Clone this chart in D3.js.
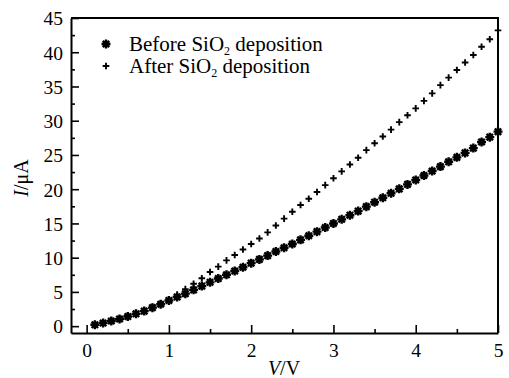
<!DOCTYPE html>
<html lang="en">
<head>
<meta charset="UTF-8">
<title>I-V curve</title>
<script src="https://cdn.jsdelivr.net/npm/d3@7.9.0/dist/d3.min.js"></script>
<style>
    body { margin: 0; background: #fff; }
    svg { display: block; font-family: "Liberation Serif", "Times New Roman", serif; }
    .axis path, .axis line { stroke: #000; }
    .axis path { stroke-width: 2; }
    .axis line { stroke-width: 1.6; }
    .axis text { font-family: "Liberation Serif", "Times New Roman", serif; font-size: 19.5px; fill: #000; }
</style>
</head>
<body>
<svg id="chart" width="509" height="378"></svg>
<script>
// voltage steps (V)
const voltage = [0.1, 0.2, 0.3, 0.4, 0.5, 0.6, 0.7, 0.8, 0.9, 1.0,
    1.1, 1.2, 1.3, 1.4, 1.5, 1.6, 1.7, 1.8, 1.9, 2.0,
    2.1, 2.2, 2.3, 2.4, 2.5, 2.6, 2.7, 2.8, 2.9, 3.0,
    3.1, 3.2, 3.3, 3.4, 3.5, 3.6, 3.7, 3.8, 3.9, 4.0,
    4.1, 4.2, 4.3, 4.4, 4.5, 4.6, 4.7, 4.8, 4.9, 5.0];

// current before SiO2 deposition (uA)
const currentBefore = [0.2, 0.45, 0.75, 1.05, 1.4, 1.8, 2.2, 2.7, 3.2, 3.75,
    4.25, 4.75, 5.3, 5.85, 6.4, 6.95, 7.5, 8.05, 8.6, 9.2,
    9.75, 10.3, 10.9, 11.45, 12.0, 12.6, 13.2, 13.8, 14.4, 15.0,
    15.6, 16.2, 16.8, 17.45, 18.1, 18.75, 19.4, 20.05, 20.7, 21.35,
    22.0, 22.65, 23.3, 24.0, 24.65, 25.3, 26.0, 26.9, 27.6, 28.4];

// current after SiO2 deposition (uA)
const currentAfter = [0.2, 0.5, 0.8, 1.1, 1.5, 1.9, 2.3, 2.8, 3.3, 3.9,
    4.6, 5.4, 6.2, 7.0, 7.9, 8.7, 9.6, 10.4, 11.2, 12.0,
    12.8, 13.7, 14.7, 15.7, 16.7, 17.7, 18.6, 19.6, 20.6, 21.6,
    22.6, 23.6, 24.6, 25.7, 26.7, 27.7, 28.7, 29.8, 30.8, 31.8,
    32.9, 34.0, 35.2, 36.3, 37.4, 38.5, 39.6, 40.8, 41.9, 43.2];

const xTicks = [0, 1, 2, 3, 4, 5];
const yTicks = [0, 5, 10, 15, 20, 25, 30, 35, 40, 45];
const xMinor = [0.5, 1.5, 2.5, 3.5, 4.5];
const yMinor = [2.5, 7.5, 12.5, 17.5, 22.5, 27.5, 32.5, 37.5, 42.5];

const plotLeft = 71, plotRight = 498, plotTop = 18, plotBottom = 333;

const svg = d3.select('#chart');

const x = d3.scaleLinear().domain([-0.19, 5]).range([plotLeft, plotRight]);
const y = d3.scaleLinear().domain([-1, 45]).range([plotBottom, plotTop]);

// frame (top and right)
svg.append('path')
    .attr('d', `M${plotLeft},${plotTop}H${plotRight}V${plotBottom}`)
    .attr('fill', 'none')
    .attr('stroke', '#000')
    .attr('stroke-width', 2);

// minor ticks
svg.append('g')
    .attr('class', 'axis')
    .attr('transform', `translate(0,${plotBottom})`)
    .call(d3.axisBottom(x).tickValues(xMinor).tickSize(-4).tickFormat(''))
    .select('.domain').remove();
svg.append('g')
    .attr('class', 'axis')
    .attr('transform', `translate(${plotLeft},0)`)
    .call(d3.axisLeft(y).tickValues(yMinor).tickSize(-4).tickFormat(''))
    .select('.domain').remove();

// major axes
svg.append('g')
    .attr('class', 'axis')
    .attr('transform', `translate(0,${plotBottom})`)
    .call(d3.axisBottom(x).tickValues(xTicks).tickFormat(d3.format('d'))
        .tickSizeInner(-8).tickSizeOuter(0).tickPadding(4))
    .call(g => g.selectAll('text').attr('dy', '1.05em'));

svg.append('g')
    .attr('class', 'axis')
    .attr('transform', `translate(${plotLeft},0)`)
    .call(d3.axisLeft(y).tickValues(yTicks).tickFormat(d3.format('d'))
        .tickSizeInner(-8).tickSizeOuter(0).tickPadding(8))
    .call(g => g.selectAll('text').attr('dy', '0.35em'));

// markers
const starPath = 'M-4.5,0H4.5M0,-4.5V4.5M-3.2,-3.2L3.2,3.2M-3.2,3.2L3.2,-3.2';
const plusPath = 'M-3.3,0H3.3M0,-3.3V3.3';

function drawStar(g, px, py) {
    g.append('path')
        .attr('transform', `translate(${px},${py})`)
        .attr('d', starPath)
        .attr('stroke', '#000')
        .attr('stroke-width', 2.4)
        .attr('fill', 'none');
}
function drawPlus(g, px, py) {
    g.append('path')
        .attr('transform', `translate(${px},${py})`)
        .attr('d', plusPath)
        .attr('stroke', '#000')
        .attr('stroke-width', 1.9)
        .attr('fill', 'none');
}

const marks = svg.append('g');
voltage.forEach((v, i) => drawStar(marks, x(v), y(currentBefore[i])));
voltage.forEach((v, i) => drawPlus(marks, x(v), y(currentAfter[i])));

// legend
const legend = svg.append('g').style('font-size', '21px');
const legendRows = [
    { label: 'Before SiO', draw: drawStar, y: 44 },
    { label: 'After SiO', draw: drawPlus, y: 66 }
];
legendRows.forEach(r => {
    r.draw(legend, 106, r.y);
    const t = legend.append('text')
        .attr('x', 129)
        .attr('y', r.y + 7);
    t.append('tspan').text(r.label);
    t.append('tspan').attr('baseline-shift', '-4').style('font-size', '12px').text('2');
    t.append('tspan').text(' deposition');
});

// axis titles
const xTitle = svg.append('text')
    .attr('x', 284)
    .attr('y', 375)
    .attr('text-anchor', 'middle')
    .style('font-size', '20px');
xTitle.append('tspan').style('font-style', 'italic').text('V');
xTitle.append('tspan').text('/V');

const yTitle = svg.append('text')
    .attr('transform', `translate(28,178) rotate(-90)`)
    .attr('text-anchor', 'middle')
    .style('font-size', '20px');
yTitle.append('tspan').style('font-style', 'italic').text('I');
yTitle.append('tspan').text('/μA');
</script>
</body>
</html>
